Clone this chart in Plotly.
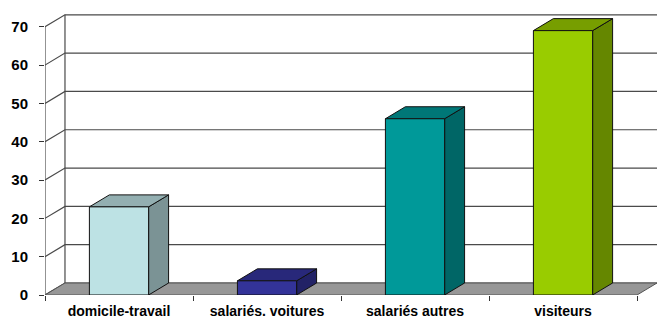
import plotly.graph_objects as go

categories = ["domicile-travail", "salariés. voitures", "salariés autres", "visiteurs"]
values = [23, 3.7, 46, 69]
y_ticks = [0, 10, 20, 30, 40, 50, 60, 70]

front_colors = ["#BDE2E4", "#333399", "#009999", "#99CC00"]
top_colors = ["#93AFB1", "#28287A", "#007777", "#779E00"]
side_colors = ["#7B9395", "#222266", "#006666", "#658700"]

DX = 0.135   # depth offset in category units
DY = 3.13    # depth offset in value units
HALF = 0.2   # half bar width
XMAX = 3.5 + DX

fig = go.Figure()

# back wall gridlines with diagonals
gx, gy = [], []
for t in y_ticks:
    gx += [-0.5, -0.5 + DX, XMAX + 0.05, None]
    gy += [t, t + DY, t + DY, None]
gx += [-0.5 + DX, -0.5 + DX, None, -0.5, -0.5]
gy += [DY, y_ticks[-1] + DY, None, 0, y_ticks[-1]]
fig.add_trace(go.Scatter(x=gx, y=gy, mode="lines", line=dict(color="#4a4a4a", width=1.2),
                         hoverinfo="skip", showlegend=False, cliponaxis=False))

# floor
fig.add_trace(go.Scatter(x=[-0.5, 3.5, 3.5 + DX, -0.5 + DX, -0.5],
                         y=[0, 0, DY, DY, 0], mode="lines", fill="toself",
                         fillcolor="#979797", line=dict(color="#555555", width=1),
                         hoverinfo="skip", showlegend=False, cliponaxis=False))

# bars
for i, v in enumerate(values):
    l, r = i - HALF, i + HALF
    # side
    fig.add_trace(go.Scatter(x=[r, r + DX, r + DX, r, r], y=[0, DY, v + DY, v, 0],
                             mode="lines", fill="toself", fillcolor=side_colors[i],
                             line=dict(color="#111111", width=1), hoverinfo="skip", showlegend=False))
    # top
    fig.add_trace(go.Scatter(x=[l, r, r + DX, l + DX, l], y=[v, v, v + DY, v + DY, v],
                             mode="lines", fill="toself", fillcolor=top_colors[i],
                             line=dict(color="#111111", width=1), hoverinfo="skip", showlegend=False))
    # front
    fig.add_trace(go.Scatter(x=[l, r, r, l, l], y=[0, 0, v, v, 0],
                             mode="lines", fill="toself", fillcolor=front_colors[i],
                             line=dict(color="#111111", width=1), hoverinfo="skip", showlegend=False))

fig.update_layout(
    width=657, height=318,
    margin=dict(l=45, r=0, t=8, b=23),
    paper_bgcolor="white", plot_bgcolor="white",
    font=dict(family="Arial, Liberation Sans, sans-serif", color="black"),
    xaxis=dict(range=[-0.5, XMAX], tickvals=[0, 1, 2, 3], ticktext=categories,
               showgrid=False, zeroline=False, showline=False, ticks="",
               automargin=False,
               tickfont=dict(size=14, family="Arial, Liberation Sans, sans-serif", weight="bold"),
               ticklabelstandoff=6,
               minor=dict(tickvals=[-0.5, 0.5, 1.5, 2.5, 3.5], ticks="outside", ticklen=5,
                          tickcolor="#333333", showgrid=False)),
    yaxis=dict(range=[0, 74.9], tickvals=y_ticks, showgrid=False, zeroline=False,
               showline=False, ticks="outside", ticklen=5, tickcolor="#333333",
               automargin=False,
               tickfont=dict(size=15, family="Arial, Liberation Sans, sans-serif", weight="bold"),
               ticklabelstandoff=8),
)

fig.write_html("out.html", config={"displayModeBar": False, "staticPlot": True},
               post_script="document.body.style.margin='0';document.body.style.overflow='hidden';")
